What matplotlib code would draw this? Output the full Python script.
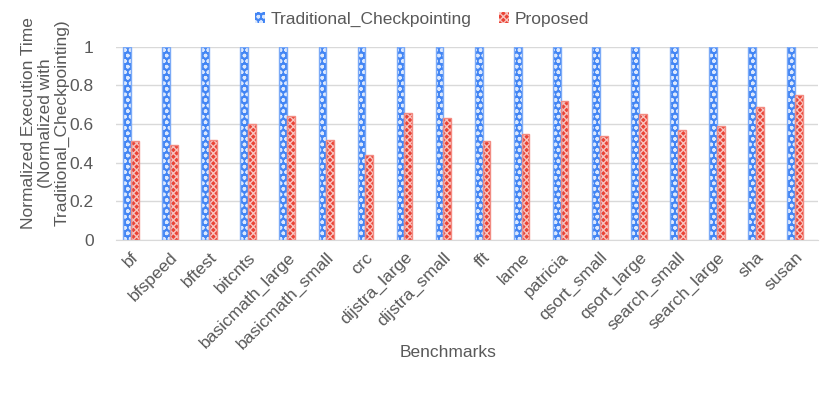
import numpy as np
import matplotlib.pyplot as plt

plt.rcParams['font.family'] = ['Liberation Sans', 'DejaVu Sans']
plt.rcParams['hatch.linewidth'] = 1.0

benchmarks = ['bf', 'bfspeed', 'bftest', 'bitcnts', 'basicmath_large', 'basicmath_small',
              'crc', 'dijstra_large', 'dijstra_small', 'fft', 'lame', 'patricia',
              'qsort_small', 'qsort_large', 'search_small', 'search_large', 'sha', 'susan']
traditional = [1.0] * 18
proposed = [0.51, 0.49, 0.52, 0.60, 0.64, 0.52, 0.44, 0.66, 0.63, 0.51,
            0.55, 0.72, 0.54, 0.65, 0.57, 0.59, 0.69, 0.75]

blue = '#4285F4'
red = '#EA4335'
text_gray = '#595959'
fs = 12.5

fig = plt.figure(figsize=(8.3, 3.94), dpi=100)
ax = fig.add_axes([0.1398, 0.391, 0.8458, 0.49])

x = np.arange(len(benchmarks))
w = 0.2

# base fill, then light hatch overlay, then outline
ax.bar(x - 0.1, traditional, w, color=blue, linewidth=0, zorder=2)
ax.bar(x - 0.1, traditional, w, facecolor='none', edgecolor='#DCE8FD', hatch='ooo',
       linewidth=0, zorder=3)
ax.bar(x - 0.1, traditional, w, facecolor='none', edgecolor='#7BAAF7', linewidth=1, zorder=4)

ax.bar(x + 0.1, proposed, w, color=red, linewidth=0, zorder=2)
ax.bar(x + 0.1, proposed, w, facecolor='none', edgecolor='#F8C4BF', hatch='xxxxx',
       linewidth=0, zorder=3)
ax.bar(x + 0.1, proposed, w, facecolor='none', edgecolor='#F28B82', linewidth=1, zorder=4)

# legend handles
h1 = plt.Rectangle((0, 0), 1, 1, facecolor=blue, edgecolor='#DCE8FD', hatch='ooo', linewidth=0)
h2 = plt.Rectangle((0, 0), 1, 1, facecolor=red, edgecolor='#F8C4BF', hatch='xxxxx', linewidth=0)
fig.legend([h1, h2], ['Traditional_Checkpointing', 'Proposed'], loc='upper center',
           bbox_to_anchor=(0.508, 1.01), ncol=2, frameon=False, fontsize=fs,
           handlelength=0.6, handleheight=0.6, handletextpad=0.3, columnspacing=1.6,
           labelcolor=text_gray)

ax.set_xlim(-0.384, len(benchmarks) - 1 + 0.59)
ax.set_ylim(0, 1)
ax.set_yticks([0, 0.2, 0.4, 0.6, 0.8, 1])
ax.set_yticklabels(['0', '0.2', '0.4', '0.6', '0.8', '1'])
ax.set_xticks(x)
ax.set_xticklabels(benchmarks, rotation=45, ha='right', rotation_mode='anchor')
ax.tick_params(axis='both', length=0, labelsize=fs, colors=text_gray)
ax.tick_params(axis='y', pad=16)
ax.tick_params(axis='x', pad=7)

ax.grid(axis='y', color='#D9D9D9', linewidth=1, zorder=0)
ax.set_axisbelow(True)
for s in ['top', 'right', 'left']:
    ax.spines[s].set_visible(False)
ax.spines['bottom'].set_color('#D9D9D9')

ax.set_ylabel('Normalized Execution Time\n(Normalized with\nTraditional_Checkpointing)',
              fontsize=fs, color=text_gray, linespacing=1.15)
ax.yaxis.set_label_coords(-0.066, 0.606)
ax.set_xlabel('Benchmarks', fontsize=fs, color=text_gray)
ax.xaxis.set_label_coords(0.473, -0.544)

fig.savefig('out.png', dpi=100)
